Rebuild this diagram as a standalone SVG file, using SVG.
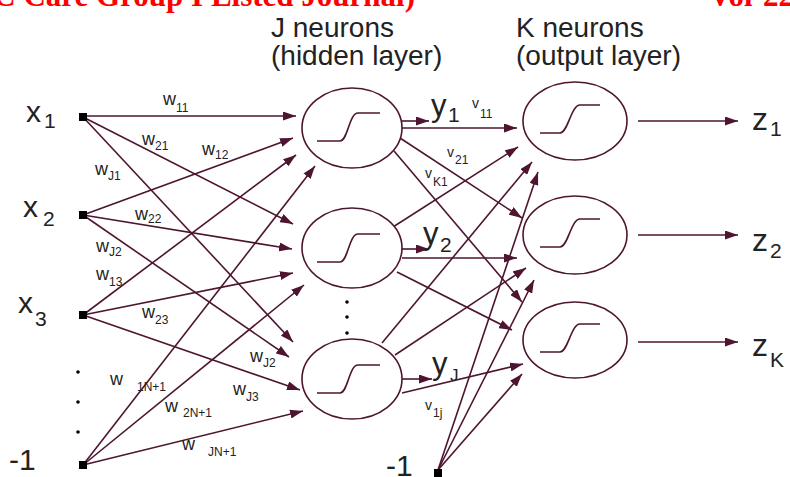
<svg xmlns="http://www.w3.org/2000/svg" width="790" height="477" viewBox="0 0 790 477">
<style>
.ln{stroke:#4e1530;stroke-width:1.6;fill:none}
.el{stroke:#4e1530;stroke-width:1.6;fill:#fff}
.sg{stroke:#4e1530;stroke-width:1.6;fill:none}
.t{font-family:"Liberation Sans",Arial,sans-serif;fill:#222}
.big{font-size:30px}
.sub{font-size:21px}
.w{font-size:18px}
.ws{font-size:12px}
.hd{font-size:28px}
.red{font-family:"Liberation Serif","Times New Roman",serif;font-weight:bold;font-size:31px;fill:#ff0000}
.sq{fill:#000}
</style>
<defs>
<marker id="ah" markerUnits="userSpaceOnUse" markerWidth="13" markerHeight="9" refX="13" refY="4.5" orient="auto">
<path d="M0,0 L13,4.5 L0,9 z" fill="#4e1530"/>
</marker>
</defs>
<rect width="790" height="477" fill="#fff"/>
<text class="red" x="415" y="6" text-anchor="end">(UGC Care Group I Listed Journal)</text>
<text class="red" x="709" y="6">Vol-22 Issue-1</text>
<g id="headers">
<text class="t hd" x="271" y="37">J neurons</text>
<text class="t hd" x="271" y="65">(hidden layer)</text>
<text class="t hd" x="516" y="37">K neurons</text>
<text class="t hd" x="516" y="65">(output layer)</text>
</g>
<g id="connectors">
<line class="ln" x1="83" y1="116" x2="296" y2="116" marker-end="url(#ah)"/>
<line class="ln" x1="83" y1="117" x2="293" y2="224" marker-end="url(#ah)"/>
<line class="ln" x1="83" y1="117" x2="293" y2="342" marker-end="url(#ah)"/>
<line class="ln" x1="83" y1="215" x2="293" y2="138" marker-end="url(#ah)"/>
<line class="ln" x1="83" y1="215" x2="292" y2="249" marker-end="url(#ah)"/>
<line class="ln" x1="83" y1="215" x2="289" y2="357" marker-end="url(#ah)"/>
<line class="ln" x1="83" y1="315" x2="296" y2="155" marker-end="url(#ah)"/>
<line class="ln" x1="83" y1="315" x2="293" y2="273" marker-end="url(#ah)"/>
<line class="ln" x1="83" y1="315" x2="300" y2="390" marker-end="url(#ah)"/>
<line class="ln" x1="83" y1="465" x2="315" y2="166" marker-end="url(#ah)"/>
<line class="ln" x1="83" y1="465" x2="304" y2="285" marker-end="url(#ah)"/>
<line class="ln" x1="83" y1="465" x2="303" y2="411" marker-end="url(#ah)"/>
<line class="ln" x1="402" y1="121" x2="429" y2="121" marker-end="url(#ah)"/>
<line class="ln" x1="402" y1="249" x2="429" y2="249" marker-end="url(#ah)"/>
<line class="ln" x1="401" y1="379" x2="432" y2="379" marker-end="url(#ah)"/>
<line class="ln" x1="402" y1="128" x2="517" y2="128" marker-end="url(#ah)"/>
<line class="ln" x1="400" y1="138" x2="522" y2="218" marker-end="url(#ah)"/>
<line class="ln" x1="394" y1="151" x2="522" y2="302" marker-end="url(#ah)"/>
<line class="ln" x1="393" y1="227" x2="518" y2="147" marker-end="url(#ah)"/>
<line class="ln" x1="402" y1="258" x2="517" y2="258" marker-end="url(#ah)"/>
<line class="ln" x1="397" y1="272" x2="512" y2="330" marker-end="url(#ah)"/>
<line class="ln" x1="382" y1="343" x2="532" y2="162" marker-end="url(#ah)"/>
<line class="ln" x1="395" y1="355" x2="526" y2="268" marker-end="url(#ah)"/>
<line class="ln" x1="402" y1="393" x2="523" y2="364" marker-end="url(#ah)"/>
<line class="ln" x1="438" y1="470" x2="538" y2="172" marker-end="url(#ah)"/>
<line class="ln" x1="438" y1="470" x2="534" y2="280" marker-end="url(#ah)"/>
<line class="ln" x1="438" y1="470" x2="522" y2="374" marker-end="url(#ah)"/>
<line class="ln" x1="638" y1="121" x2="738" y2="121" marker-end="url(#ah)"/>
<line class="ln" x1="638" y1="235" x2="738" y2="235" marker-end="url(#ah)"/>
<line class="ln" x1="638" y1="342" x2="738" y2="342" marker-end="url(#ah)"/>
</g>
<g id="weight-labels">
<text class="t w" x="163" y="105">w<tspan class="ws" x="176" y="112">11</tspan></text>
<text class="t w" x="142" y="145">w<tspan class="ws" x="155" y="150">21</tspan></text>
<text class="t w" x="202" y="155">w<tspan class="ws" x="215" y="159">12</tspan></text>
<text class="t w" x="95" y="175">w<tspan class="ws" x="108" y="180">J1</tspan></text>
<text class="t w" x="135" y="220">w<tspan class="ws" x="148" y="223">22</tspan></text>
<text class="t w" x="96" y="252">w<tspan class="ws" x="109" y="256">J2</tspan></text>
<text class="t w" x="96" y="280">w<tspan class="ws" x="109" y="286">13</tspan></text>
<text class="t w" x="142" y="318">w<tspan class="ws" x="155" y="324">23</tspan></text>
<text class="t w" x="250" y="362">w<tspan class="ws" x="263" y="367">J2</tspan></text>
<text class="t w" x="233" y="395">w<tspan class="ws" x="246" y="401">J3</tspan></text>
<text class="t w" x="110" y="385">w<tspan class="ws" x="137" y="391">1N+1</tspan></text>
<text class="t w" x="165" y="412">w<tspan class="ws" x="183" y="417">2N+1</tspan></text>
<text class="t w" x="182" y="450">w<tspan class="ws" x="208" y="456">JN+1</tspan></text>
<text class="t" style="font-size:14px" x="472" y="108">v<tspan class="ws" x="480" y="118">11</tspan></text>
<text class="t" style="font-size:14px" x="447" y="157">v<tspan class="ws" x="455" y="164">21</tspan></text>
<text class="t" style="font-size:14px" x="425" y="178">v<tspan class="ws" x="433" y="186">K1</tspan></text>
<text class="t" style="font-size:14px" x="425" y="410">v<tspan class="ws" x="433" y="417">1j</tspan></text>
</g>
<g id="input-x1"><rect class="sq" x="79" y="113" width="8" height="8"/><text class="t big" x="26" y="122">x<tspan class="sub" x="44" y="128">1</tspan></text></g>
<g id="input-x2"><rect class="sq" x="79" y="211" width="8" height="8"/><text class="t big" x="23" y="217">x<tspan class="sub" x="43" y="226">2</tspan></text></g>
<g id="input-x3"><rect class="sq" x="79" y="311" width="8" height="8"/><text class="t big" x="18" y="313">x<tspan class="sub" x="35" y="326">3</tspan></text></g>
<g id="input-dots"><circle cx="78" cy="372" r="1.8" fill="#000"/><circle cx="78" cy="402" r="1.8" fill="#000"/><circle cx="78" cy="432" r="1.8" fill="#000"/></g>
<g id="input-bias"><rect class="sq" x="79" y="461" width="8" height="8"/><text class="t" style="font-size:30px" x="9" y="470">-1</text></g>
<g id="hidden-1"><ellipse class="el" cx="352" cy="128" rx="50" ry="40"/><path class="sg" d="M317,141 H340 C348,141 349,113 358,113 H380"/><text class="t" style="font-size:31px" x="431" y="116">y<tspan class="sub" x="448" y="122">1</tspan></text></g>
<g id="hidden-2"><ellipse class="el" cx="352" cy="248" rx="50" ry="40"/><path class="sg" d="M317,262 H340 C348,262 349,234 358,234 H380"/><text class="t" style="font-size:31px" x="423" y="244">y<tspan class="sub" x="440" y="252">2</tspan></text></g>
<g id="hidden-dots"><circle cx="347" cy="302" r="1.8" fill="#000"/><circle cx="347" cy="317" r="1.8" fill="#000"/><circle cx="347" cy="333" r="1.8" fill="#000"/></g>
<g id="hidden-J"><ellipse class="el" cx="352" cy="379" rx="50" ry="40"/><path class="sg" d="M317,393 H340 C348,393 349,365 358,365 H380"/><text class="t" style="font-size:31px" x="432" y="374">y<tspan style="font-size:17px" x="450" y="381">J</tspan></text></g>
<g id="output-1"><ellipse class="el" cx="575" cy="121" rx="52" ry="39"/><path class="sg" d="M540,133 H560 C568,133 571,105 580,105 H600"/><text class="t" style="font-size:32px" x="752" y="130">z<tspan class="sub" x="770" y="136">1</tspan></text></g>
<g id="output-2"><ellipse class="el" cx="575" cy="235" rx="52" ry="39"/><path class="sg" d="M540,247 H560 C568,247 571,219 580,219 H600"/><text class="t" style="font-size:32px" x="752" y="251">z<tspan class="sub" x="770" y="258">2</tspan></text></g>
<g id="output-K"><ellipse class="el" cx="575" cy="340" rx="52" ry="38"/><path class="sg" d="M540,352 H560 C568,352 571,324 580,324 H600"/><text class="t" style="font-size:32px" x="752" y="356">z<tspan class="sub" x="770" y="367">K</tspan></text></g>
<g id="output-bias"><rect class="sq" x="434" y="469" width="8" height="8"/><text class="t" style="font-size:30px" x="386" y="476">-1</text></g>
</svg>
